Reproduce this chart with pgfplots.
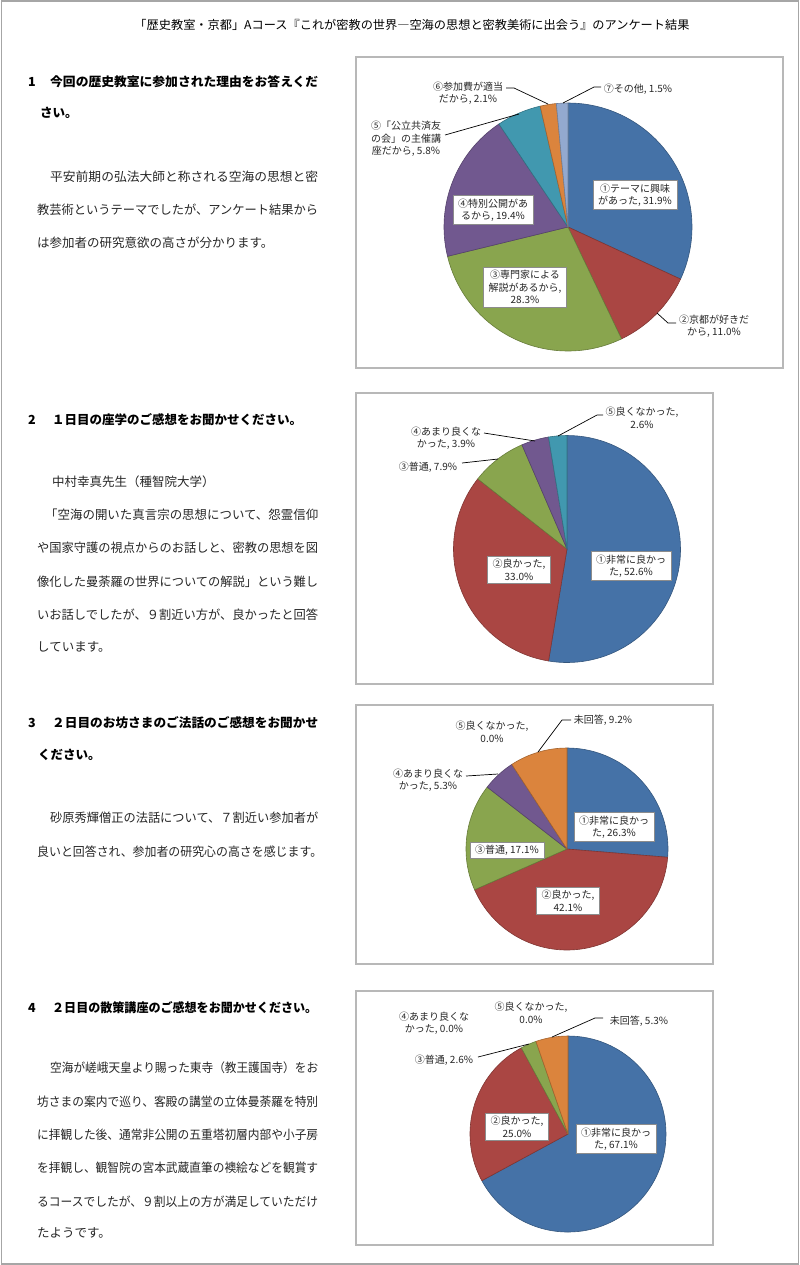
\documentclass[border=0pt]{standalone}
\usepackage{fontspec}
\setmainfont{Noto Sans CJK JP}
\usepackage{graphicx}
\usepackage{pgfplots}
\usepackage{pgfplotstable}
\pgfplotsset{compat=1.18}

\definecolor{pc0}{HTML}{4572A7}
\definecolor{pc1}{HTML}{AA4643}
\definecolor{pc2}{HTML}{89A54E}
\definecolor{pc3}{HTML}{71588F}
\definecolor{pc4}{HTML}{4198AF}
\definecolor{pc5}{HTML}{DB843D}
\definecolor{pc6}{HTML}{93A9CF}

% Q1: reasons for attending
\pgfplotstableread{
item pct
1 31.9
2 11.0
3 28.3
4 19.4
5 5.8
6 2.1
7 1.5
}\pieA
% Q2: day 1 lecture
\pgfplotstableread{
item pct
1 52.6
2 33.0
3 7.9
4 3.9
5 2.6
}\pieB
% Q3: day 2 sermon
\pgfplotstableread{
item pct
1 26.3
2 42.1
3 17.1
4 5.3
5 0.0
6 9.2
}\pieC
% Q4: day 2 walk
\pgfplotstableread{
item pct
1 67.1
2 25.0
3 2.6
4 0.0
5 0.0
6 5.3
}\pieD

% #1 table, #2 cx, #3 cy, #4 radius (data units = bp)
\newcommand\drawpie[4]{%
  \pgfplotstablegetrowsof{#1}%
  \pgfmathtruncatemacro\nlast{\pgfplotsretval-1}%
  \def\cum{0}%
  \pgfplotsforeachungrouped \i in {0,...,\nlast}{%
    \pgfplotstablegetelem{\i}{pct}\of{#1}%
    \let\val\pgfplotsretval
    \pgfmathsetmacro\aS{90-3.6*\cum}%
    \pgfmathsetmacro\aE{90-3.6*(\cum+\val)}%
    \pgfmathsetmacro\cum{\cum+\val}%
    \pgfmathsetmacro\xS{#2+#4*cos(\aS)}%
    \pgfmathsetmacro\yS{#3-#4*sin(\aS)}%
    \pgfmathtruncatemacro\pos{\val>0}%
    \ifnum\pos=1
      \edef\tmp{\noexpand\filldraw[fill=pc\i, draw=pc\i!75!black, line width=0.6bp, line join=round]
        (axis cs:#2,#3) -- (axis cs:\xS,\yS) arc[start angle=\aS, end angle=\aE, radius=#4bp] -- cycle;}%
      \tmp
    \fi
  }%
}

\pgfplotsset{piebox/.style={x=1bp, y=1bp, y dir=reverse, enlargelimits=false,
  xtick=\empty, ytick=\empty, clip=false, anchor=north west,
  axis line style={draw=black!28, line width=1.3bp}}}

\tikzset{
  lbl/.style={font=\fontsize{10bp}{12.5bp}\selectfont, text=black!85, align=center, inner sep=0pt},
  boxlbl/.style={lbl, fill=white, draw=black!45, line width=0.6bp, inner xsep=5bp, inner ysep=3bp},
  lead/.style={draw=black, line width=0.7bp}
}

\newcommand\bodyfont{\fontsize{12.5bp}{15bp}\selectfont\color{black!85}}
\newcommand\headfont{\fontsize{12.5bp}{15bp}\selectfont\bfseries\color{black}}
\newcommand\jline[4]{\node[anchor=west, inner sep=0pt, font=\bodyfont] at (#1,#2) {\resizebox{#3bp}{\height}{#4}};}
\newcommand\nline[3]{\node[anchor=west, inner sep=0pt, font=\bodyfont] at (#1,#2) {#3};}
\newcommand\hjline[4]{\node[anchor=west, inner sep=0pt, font=\headfont] at (#1,#2) {\resizebox{#3bp}{\height}{#4}};}
\newcommand\hnline[3]{\node[anchor=west, inner sep=0pt, font=\headfont] at (#1,#2) {#3};}

\begin{document}
\begin{tikzpicture}[x=1bp, y=-1bp]
\useasboundingbox (0,0) rectangle (800,1265);
\draw[black!35, line width=1.5bp] (1.5,1) rectangle (798.5,1264);

% title
\node[anchor=center, inner sep=0pt, font=\fontsize{12bp}{14bp}\selectfont] at (412,25)
  {\resizebox{555bp}{\height}{「歴史教室・京都」Aコース『これが密教の世界―空海の思想と密教美術に出会う』のアンケート結果}};

% ---------- Section 1 text
\hnline{28}{82}{1}
\hjline{50}{82}{268}{今回の歴史教室に参加された理由をお答えくだ}
\hnline{40}{113}{さい。}
\jline{50}{177}{268}{平安前期の弘法大師と称される空海の思想と密}
\jline{37}{210}{281}{教芸術というテーマでしたが、アンケート結果から}
\nline{37}{243}{は参加者の研究意欲の高さが分かります。}

% ---------- Section 2 text
\hnline{28}{420}{2}
\hnline{52}{420}{１日目の座学のご感想をお聞かせください。}
\nline{52}{482}{中村幸真先生（種智院大学）}
\jline{45}{515}{273}{「空海の開いた真言宗の思想について、怨霊信仰}
\jline{37}{548}{281}{や国家守護の視点からのお話しと、密教の思想を図}
\jline{37}{582}{281}{像化した曼荼羅の世界についての解説」という難し}
\jline{37}{615}{281}{いお話しでしたが、９割近い方が、良かったと回答}
\nline{37}{647}{しています。}

% ---------- Section 3 text
\hnline{28}{723}{3}
\hjline{52}{723}{266}{２日目のお坊さまのご法話のご感想をお聞かせ}
\hnline{38}{755}{ください。}
\jline{50}{818}{268}{砂原秀輝僧正の法話について、７割近い参加者が}
\jline{37}{852}{285}{良いと回答され、参加者の研究心の高さを感じます。}

% ---------- Section 4 text
\hnline{28}{1008}{4}
\hjline{52}{1008}{265}{２日目の散策講座のご感想をお聞かせください。}
\jline{50}{1068}{268}{空海が嵯峨天皇より賜った東寺（教王護国寺）をお}
\jline{37}{1102}{281}{坊さまの案内で巡り、客殿の講堂の立体曼荼羅を特別}
\jline{37}{1135}{281}{に拝観した後、通常非公開の五重塔初層内部や小子房}
\jline{37}{1168}{281}{を拝観し、観智院の宮本武蔵直筆の襖絵などを観賞す}
\jline{37}{1202}{281}{るコースでしたが、９割以上の方が満足していただけ}
\nline{37}{1233}{たようです。}

% ---------- Pie 1
\begin{axis}[piebox, at={(356,57)}, xmin=356, xmax=783, ymin=57, ymax=368]
\drawpie{\pieA}{568}{227}{124}
\node[boxlbl] at (axis cs:635,195) {①テーマに興味\\があった, 31.9\%};
\node[boxlbl] at (axis cs:525,287) {③専門家による\\解説があるから,\\28.3\%};
\node[boxlbl] at (axis cs:493,210) {④特別公開があ\\るから, 19.4\%};
\node[lbl] at (axis cs:714,326) {②京都が好きだ\\から, 11.0\%};
\draw[lead] (axis cs:657,313) -- (axis cs:668,323) -- (axis cs:676,323);
\node[lbl] at (axis cs:406,139) {⑤「公立共済友\\の会」の主催講\\座だから, 5.8\%};
\draw[lead] (axis cs:445,135) -- (axis cs:519,114);
\node[lbl] at (axis cs:468,93) {⑥参加費が適当\\だから, 2.1\%};
\draw[lead] (axis cs:506,88) -- (axis cs:514,88) -- (axis cs:548,104);
\node[lbl] at (axis cs:638,89) {⑦その他, 1.5\%};
\draw[lead] (axis cs:563,103) -- (axis cs:594,87) -- (axis cs:601,87);
\end{axis}

% ---------- Pie 2
\begin{axis}[piebox, at={(356,393)}, xmin=356, xmax=713, ymin=393, ymax=684]
\drawpie{\pieB}{567}{549}{113.5}
\node[boxlbl] at (axis cs:631,566) {①非常に良かっ\\た, 52.6\%};
\node[boxlbl] at (axis cs:519,570) {②良かった,\\33.0\%};
\node[lbl] at (axis cs:428,467) {③普通, 7.9\%};
\draw[lead] (axis cs:462,463) -- (axis cs:498,459);
\node[lbl] at (axis cs:446,438) {④あまり良くな\\かった, 3.9\%};
\draw[lead] (axis cs:484,433) -- (axis cs:535,441);
\node[lbl] at (axis cs:642,418) {⑤良くなかった,\\2.6\%};
\draw[lead] (axis cs:558,436) -- (axis cs:597,415) -- (axis cs:603,415);
\end{axis}

% ---------- Pie 3
\begin{axis}[piebox, at={(356,705)}, xmin=356, xmax=713, ymin=705, ymax=964]
\drawpie{\pieC}{567}{849}{101}
\node[boxlbl] at (axis cs:614,827) {①非常に良かっ\\た, 26.3\%};
\node[boxlbl] at (axis cs:568,901) {②良かった,\\42.1\%};
\node[boxlbl] at (axis cs:507,850) {③普通, 17.1\%};
\node[lbl] at (axis cs:428,780) {④あまり良くな\\かった, 5.3\%};
\draw[lead] (axis cs:466,776) -- (axis cs:498,774);
\node[lbl] at (axis cs:492,732) {⑤良くなかった,\\0.0\%};
\node[lbl] at (axis cs:603,720) {未回答, 9.2\%};
\draw[lead] (axis cs:538,752) -- (axis cs:562,720) -- (axis cs:571,720);
\end{axis}

% ---------- Pie 4
\begin{axis}[piebox, at={(356,991)}, xmin=356, xmax=713, ymin=991, ymax=1245]
\drawpie{\pieD}{568}{1134}{98}
\node[boxlbl] at (axis cs:616,1139) {①非常に良かっ\\た, 67.1\%};
\node[boxlbl] at (axis cs:517,1127) {②良かった,\\25.0\%};
\node[lbl] at (axis cs:444,1060) {③普通, 2.6\%};
\draw[lead] (axis cs:478,1057) -- (axis cs:529,1044);
\node[lbl] at (axis cs:434,1023) {④あまり良くな\\かった, 0.0\%};
\node[lbl] at (axis cs:531,1013) {⑤良くなかった,\\0.0\%};
\node[lbl] at (axis cs:639,1021) {未回答, 5.3\%};
\draw[lead] (axis cs:552,1037) -- (axis cs:595,1018) -- (axis cs:603,1018);
\end{axis}
\end{tikzpicture}
\end{document}
